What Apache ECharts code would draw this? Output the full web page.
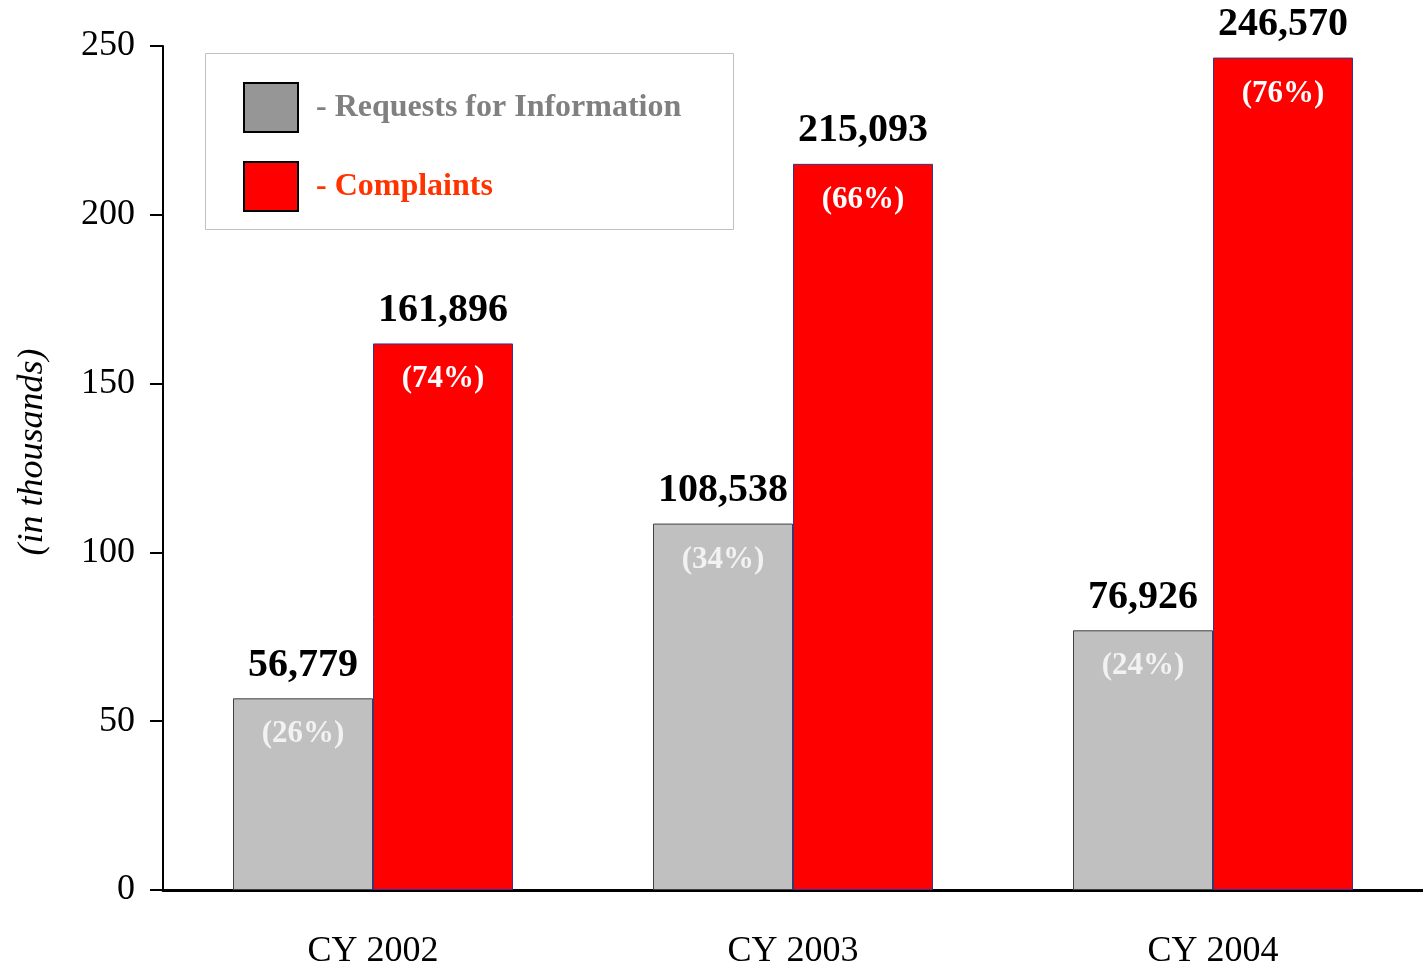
<!DOCTYPE html>
<html>
<head>
<meta charset="utf-8">
<title>Requests vs Complaints</title>
<script src="https://cdn.jsdelivr.net/npm/echarts@6/dist/echarts.min.js"></script>
<style>
  html, body { margin: 0; padding: 0; background: #fff; }
  #chart { width: 1423px; height: 972px; }
</style>
</head>
<body>
<div id="chart"></div>
<script>
// data
const categories = ['CY 2002', 'CY 2003', 'CY 2004']
const requestCounts = [56779, 108538, 76926]
const complaintCounts = [161896, 215093, 246570]
const requestShares = [26, 34, 24]
const complaintShares = [74, 66, 76]

const serif = '"Liberation Serif", "Times New Roman", serif'

const fmt = n => n.toLocaleString('en-US')

// value above the bar, share inside the top of the bar
function barLabel (counts, shares, shareColor) {
  return {
    show: true,
    position: 'top',
    distance: 0,
    offset: [0, 56],
    fontFamily: serif,
    formatter: p => '{v|' + fmt(counts[p.dataIndex]) + '}\n{p|(' + shares[p.dataIndex] + '%)}',
    rich: {
      v: { fontFamily: serif, fontSize: 40, fontWeight: 'bold', color: '#000', lineHeight: 98 },
      p: { fontFamily: serif, fontSize: 31, fontWeight: 'bold', color: shareColor, lineHeight: 40 }
    }
  }
}

const chart = echarts.init(document.getElementById('chart'))

chart.setOption({
  backgroundColor: '#fff',
  animation: false,
  grid: { left: 163, right: 0, top: 46, bottom: 82, outerBoundsMode: 'none', containLabel: false },
  graphic: [
    {
      type: 'rect',
      left: 205,
      top: 53,
      z: 0,
      shape: { width: 528, height: 176 },
      style: { fill: '#fff', stroke: '#c0c0c0', lineWidth: 1 }
    }
  ],
  legend: {
    orient: 'vertical',
    left: 243,
    top: 82,
    padding: 0,
    itemWidth: 54,
    itemHeight: 49,
    itemGap: 28,
    icon: 'rect',
    z: 5,
    data: [
      {
        name: 'Requests for Information',
        itemStyle: { color: '#969696', borderColor: '#000', borderWidth: 2 },
        textStyle: { color: '#808080' }
      },
      {
        name: 'Complaints',
        itemStyle: { color: '#ff0000', borderColor: '#000', borderWidth: 2 },
        textStyle: { color: '#ff3300' }
      }
    ],
    formatter: name => '- ' + name,
    textStyle: { fontFamily: serif, fontSize: 32, fontWeight: 'bold', padding: [0, 0, 0, 13] }
  },
  xAxis: {
    type: 'category',
    data: categories,
    axisLine: { lineStyle: { color: '#000', width: 3 } },
    axisTick: { show: false },
    axisLabel: { color: '#000', fontFamily: serif, fontSize: 36, margin: 44 }
  },
  yAxis: {
    type: 'value',
    min: 0,
    max: 250,
    interval: 50,
    name: '(in thousands)',
    nameLocation: 'middle',
    nameGap: 112,
    nameRotate: 90,
    nameTextStyle: { color: '#000', fontFamily: serif, fontSize: 36, fontStyle: 'italic', padding: [0, 0, 0, 32] },
    axisLine: { show: true, lineStyle: { color: '#000', width: 2 } },
    axisTick: { show: true, length: 13, lineStyle: { color: '#000', width: 2 } },
    axisLabel: { color: '#000', fontFamily: serif, fontSize: 36, margin: 28 },
    splitLine: { show: false }
  },
  series: [
    {
      name: 'Requests for Information',
      type: 'bar',
      barWidth: 140,
      barGap: 0,
      data: requestCounts.map(v => v / 1000),
      itemStyle: { color: '#c0c0c0', borderColor: '#404040', borderWidth: 1 },
      label: barLabel(requestCounts, requestShares, '#f2f2f2')
    },
    {
      name: 'Complaints',
      type: 'bar',
      barWidth: 140,
      barGap: 0,
      data: complaintCounts.map(v => v / 1000),
      itemStyle: { color: '#ff0000', borderColor: '#333399', borderWidth: 1 },
      label: barLabel(complaintCounts, complaintShares, '#ffffff')
    }
  ]
})
</script>
</body>
</html>
